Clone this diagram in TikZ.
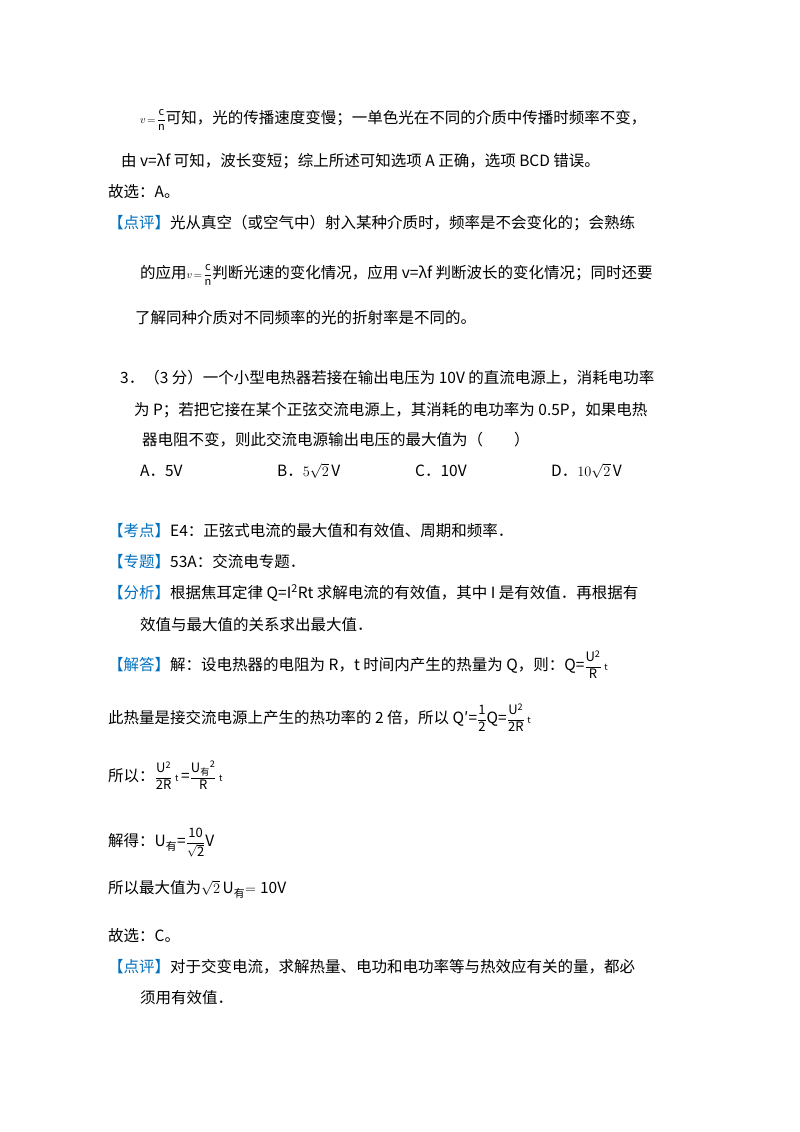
\documentclass[tikz,border=0pt]{standalone}
\usepackage{fontspec}
\setmainfont{Noto Sans CJK SC}
\usepackage{amsmath}
\definecolor{tagblue}{RGB}{0,112,192}
\tikzset{ln/.style={anchor=base west,inner sep=0pt,font=\fontsize{15.5}{18}\selectfont}}
\newcommand{\tagb}[1]{\textcolor{tagblue}{【#1】}}
\newcommand{\fr}[2]{{\fontsize{13}{15}\selectfont$\dfrac{\mathrm{#1}}{\mathrm{#2}}$}}
\newcommand{\vcn}{{\fontsize{11}{13}\selectfont$v\!=\!\dfrac{\mathrm{c}}{\mathrm{n}}$}}
\begin{document}
\begin{tikzpicture}[x=1pt,y=-1pt]
\useasboundingbox (0,0) rectangle (800,1132);
\fill[white] (0,0) rectangle (800,1132);
\node[ln] (l1) at (140,123) {\vcn 可知，光的传播速度变慢；一单色光在不同的介质中传播时频率不变，};
\node[ln] (l2) at (121,166) {由 v=λf 可知，波长变短；综上所述可知选项 A 正确，选项 BCD 错误。};
\node[ln] (l3) at (108,197) {故选：A。};
\node[ln] (l4) at (108,228) {\tagb{点评}光从真空（或空气中）射入某种介质时，频率是不会变化的；会熟练};
\node[ln] (l5) at (140,278) {的应用\vcn 判断光速的变化情况，应用 v=λf 判断波长的变化情况；同时还要};
\node[ln] (l6) at (135,323) {了解同种介质对不同频率的光的折射率是不同的。};
\node[ln] (q1) at (120,383) {3．（3 分）一个小型电热器若接在输出电压为 10V 的直流电源上，消耗电功率};
\node[ln] (q2) at (134,415) {为 P；若把它接在某个正弦交流电源上，其消耗的电功率为 0.5P，如果电热};
\node[ln] (q3) at (142,445) {器电阻不变，则此交流电源输出电压的最大值为（　　）};
\node[ln] (oa) at (140,476) {A．5V};
\node[ln] (ob) at (277,476) {B．$5\sqrt{2}\,\mathrm{V}$};
\node[ln] (oc) at (415,476) {C．10V};
\node[ln] (od) at (551,476) {D．$10\sqrt{2}\,\mathrm{V}$};
\node[ln] (k1) at (108,536) {\tagb{考点}E4：正弦式电流的最大值和有效值、周期和频率．};
\node[ln] (k2) at (108,567) {\tagb{专题}53A：交流电专题．};
\node[ln] (k3) at (108,598) {\tagb{分析}根据焦耳定律 Q=I\textsuperscript{2}Rt 求解电流的有效值，其中 I 是有效值．再根据有};
\node[ln] (k4) at (140,630) {效值与最大值的关系求出最大值．};
\node[ln] (s1) at (108,670) {\tagb{解答}解：设电热器的电阻为 R，t 时间内产生的热量为 Q，则：Q=\fr{U^2}{R}\,{\small t}};
\node[ln] (s2) at (108,723) {此热量是接交流电源上产生的热功率的 2 倍，所以 Q′=\fr{1}{2}Q=\fr{U^2}{2R}\,{\small t}};
\node[ln] (s3) at (108,781) {所以：\fr{U^2}{2R}\,{\small t}\,=\fr{U_{\text{有}}{}^2}{R}\,{\small t}};
\node[ln] (s4) at (108,846) {解得：$\mathrm{U}_{\text{有}}$=\fr{10}{\sqrt{2}}V};
\node[ln] (s5) at (108,893) {所以最大值为$\sqrt{2}\,\mathrm{U}_{\text{有}}\mathrm{=10V}$};
\node[ln] (s6) at (108,941) {故选：C。};
\node[ln] (s7) at (108,972) {\tagb{点评}对于交变电流，求解热量、电功和电功率等与热效应有关的量，都必};
\node[ln] (s8) at (140,1003) {须用有效值．};
\end{tikzpicture}
\end{document}
